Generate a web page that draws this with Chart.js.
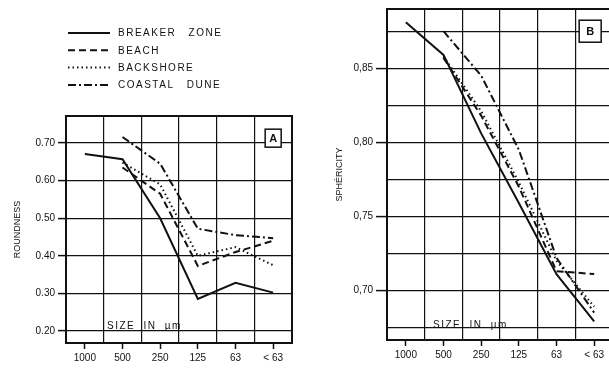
<!DOCTYPE html>
<html>
<head>
<meta charset="utf-8">
<script src="https://cdn.jsdelivr.net/npm/chart.js@4.4.1/dist/chart.umd.min.js"></script>
<style>
  html, body { margin: 0; padding: 0; background: #fff; overflow: hidden; }
  #wrap { position: relative; width: 609px; height: 370px; overflow: hidden; }
  canvas { position: absolute; top: 0; }
  #chartA { left: 0; }
  #chartB { left: 300px; }
</style>
</head>
<body>
<div id="wrap">
  <canvas id="chartA" width="300" height="370"></canvas>
  <canvas id="chartB" width="316" height="370"></canvas>
</div>
<script>
// grain size classes (µm)
const sizes = ['1000', '500', '250', '125', '63', '< 63'];
const seriesNames = ['BREAKER ZONE', 'BEACH', 'BACKSHORE', 'COASTAL DUNE'];

// panel A - roundness
const breakerRound   = [0.671, 0.657, 0.50, 0.285, 0.328, 0.302];
const beachRound     = [null, 0.635, 0.565, 0.373, 0.41, 0.44];
const backshoreRound = [null, 0.648, 0.59, 0.40, 0.423, 0.375];
const duneRound      = [null, 0.716, 0.645, 0.472, 0.455, 0.447];
const roundTicks = [0.20, 0.30, 0.40, 0.50, 0.60, 0.70];

// panel B - sphericity
const breakerSphere   = [0.881, 0.859, 0.806, 0.759, 0.711, 0.679];
const beachSphere     = [null, 0.857, 0.818, 0.770, 0.713, 0.711];
const backshoreSphere = [null, 0.858, 0.821, 0.773, 0.720, 0.689];
const duneSphere      = [null, 0.875, 0.845, 0.795, 0.722, 0.685];
const sphereTicks = [0.675, 0.70, 0.725, 0.75, 0.775, 0.80, 0.825, 0.85, 0.875];

const ink = '#111';
const dashes = [[], [7, 4], [1.5, 3], [8, 3, 2, 3]];

Chart.defaults.font.family = '"Liberation Sans", Arial, sans-serif';
Chart.defaults.font.size = 10;
Chart.defaults.color = ink;

function makeSets(series) {
  return series.map((data, i) => ({
    label: seriesNames[i],
    data: data,
    borderColor: ink,
    borderWidth: 2,
    borderDash: dashes[i],
    pointRadius: 0,
    tension: 0,
    fill: false
  }));
}

// legend drawn in the top padding of panel A
const legendPlugin = {
  id: 'sketchLegend',
  afterDraw(chart, args, opts) {
    const ctx = chart.ctx;
    ctx.save();
    chart.data.datasets.forEach((ds, i) => {
      const y = opts.y + i * opts.step;
      ctx.beginPath();
      ctx.setLineDash(ds.borderDash);
      ctx.lineWidth = ds.borderWidth;
      ctx.strokeStyle = ds.borderColor;
      ctx.moveTo(opts.x, y);
      ctx.lineTo(opts.x + 42, y);
      ctx.stroke();
      ctx.setLineDash([]);
      ctx.font = '10px "Liberation Sans"';
      ctx.letterSpacing = '1.5px';
      ctx.wordSpacing = '8px';
      ctx.fillStyle = ink;
      ctx.textBaseline = 'middle';
      ctx.fillText(ds.label, opts.x + 50, y + 0.5);
    });
    ctx.restore();
  }
};

// frame, panel letter and "SIZE IN µm"
const panelPlugin = {
  id: 'panelFrame',
  afterDraw(chart, args, opts) {
    const { ctx, chartArea: a, scales } = chart;
    ctx.save();
    ctx.setLineDash([]);
    ctx.lineWidth = 2;
    ctx.strokeStyle = ink;
    ctx.strokeRect(a.left, a.top, a.right - a.left, a.bottom - a.top);

    const cx = scales.x.getPixelForValue(sizes.length - 1) + opts.tagDx;
    const cy = scales.y.getPixelForValue(opts.tagAt);
    const w = opts.tagW, h = opts.tagH;
    ctx.fillStyle = '#fff';
    ctx.fillRect(cx - w / 2, cy - h / 2, w, h);
    ctx.lineWidth = 1.5;
    ctx.strokeRect(cx - w / 2, cy - h / 2, w, h);
    ctx.fillStyle = ink;
    ctx.font = 'bold 11px "Liberation Sans"';
    ctx.textAlign = 'center';
    ctx.textBaseline = 'middle';
    ctx.fillText(opts.tag, cx, cy + 1);

    ctx.font = '10px "Liberation Sans"';
    ctx.letterSpacing = '1.5px';
    ctx.wordSpacing = '4px';
    ctx.textAlign = 'left';
    ctx.textBaseline = 'alphabetic';
    ctx.fillText('SIZE IN µm', a.left + opts.sizeDx, a.bottom - opts.sizeDy);
    ctx.restore();
  }
};

function makePanel(id, cfg) {
  return new Chart(document.getElementById(id), {
    type: 'line',
    data: { labels: sizes, datasets: makeSets(cfg.series) },
    plugins: cfg.plugins,
    options: {
      responsive: false,
      animation: false,
      layout: { padding: cfg.padding },
      plugins: {
        legend: { display: false },
        tooltip: { enabled: false },
        sketchLegend: { x: 68, y: 33, step: 17.3 },
        panelFrame: cfg.frame
      },
      scales: {
        x: {
          type: 'category',
          offset: true,
          grid: { offset: false, drawOnChartArea: false, tickLength: 6, tickWidth: 1.5, tickColor: ink },
          border: { color: ink, width: 2 },
          ticks: { padding: 3, maxRotation: 0, autoSkip: false, color: ink },
          afterFit: s => { s.height = cfg.xHeight; }
        },
        xg: {
          type: 'category',
          position: 'top',
          labels: sizes,
          offset: true,
          grid: { offset: true, drawTicks: false, color: ink, lineWidth: 1.2 },
          border: { display: false },
          ticks: { display: false },
          afterFit: s => { s.height = 0; }
        },
        y: {
          min: cfg.yMin,
          max: cfg.yMax,
          afterBuildTicks: s => { s.ticks = cfg.yTicks.map(v => ({ value: v })); },
          grid: {
            color: ink,
            lineWidth: 1.2,
            tickLength: cfg.tickLen,
            tickWidth: 1.5,
            tickColor: c => cfg.labelled(c.tick.value) ? ink : 'rgba(0,0,0,0)'
          },
          border: { color: ink, width: 2 },
          ticks: {
            padding: 3,
            color: ink,
            callback: v => cfg.labelled(v) ? cfg.fmt(v) : ''
          },
          title: {
            display: true,
            text: cfg.yTitle,
            font: { size: 9 },
            color: ink,
            padding: { top: cfg.titlePad, bottom: 0 }
          },
          afterFit: s => { s.width = cfg.yWidth; }
        }
      }
    }
  });
}

makePanel('chartA', {
  series: [breakerRound, beachRound, backshoreRound, duneRound],
  plugins: [legendPlugin, panelPlugin],
  padding: { top: 116, right: 8, left: 0, bottom: 0 },
  frame: { tag: 'A', tagAt: 0.713, tagDx: 0, tagW: 16, tagH: 18, sizeDx: 41, sizeDy: 14 },
  xHeight: 27,
  yMin: 0.168, yMax: 0.772,
  yTicks: roundTicks,
  tickLen: 8,
  labelled: v => true,
  fmt: v => v.toFixed(2),
  yTitle: 'ROUNDNESS',
  titlePad: 12,
  yWidth: 66
});

makePanel('chartB', {
  series: [breakerSphere, beachSphere, backshoreSphere, duneSphere],
  plugins: [panelPlugin],
  padding: { top: 6, right: 3, left: 0, bottom: 0 },
  frame: { tag: 'B', tagAt: 0.875, tagDx: -4, tagW: 22, tagH: 22, sizeDx: 46, sizeDy: 12 },
  xHeight: 30,
  yMin: 0.6665, yMax: 0.890,
  yTicks: sphereTicks,
  tickLen: 11,
  labelled: v => Math.abs(v * 20 - Math.round(v * 20)) < 1e-6,
  fmt: v => v.toFixed(2).replace('.', ','),
  yTitle: 'SPHÉRICITY',
  titlePad: 34,
  yWidth: 87
});
</script>
</body>
</html>
